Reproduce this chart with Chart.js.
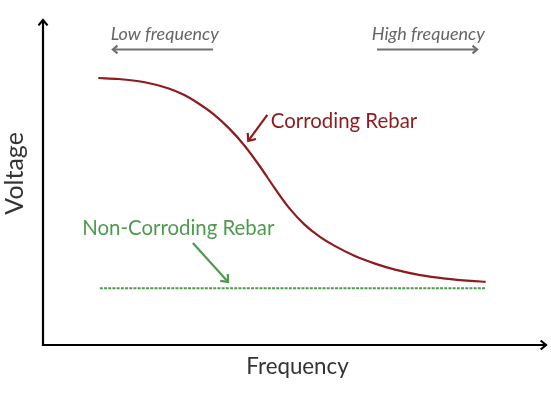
<!DOCTYPE html>
<html><head><meta charset="utf-8">
<script src="https://cdn.jsdelivr.net/npm/chart.js@4/dist/chart.umd.min.js"></script>
<style>html,body{margin:0;padding:0;background:#fff}#wrap{width:551px;height:393px}</style>
</head><body><div id="wrap"><canvas id="c" width="551" height="393"></canvas></div>
<script>
// Frequency positions (arbitrary units, 0 = origin, 100 = end of axis)
const frequency = [11, 15, 20, 25, 28, 31, 34, 37, 40, 43, 46, 49, 52, 55, 58, 62, 66, 70, 75, 80, 85, 88];
// Voltage (arbitrary units, 0 = origin, 100 = top of axis)
const corrodingVoltage = [82.15, 81.85, 80.92, 78.92, 76.98, 74.22, 70.89, 66.65, 61.48, 55.23, 48.40, 42.03, 37.05, 33.35, 30.49, 27.38, 25.05, 23.20, 21.51, 20.43, 19.72, 19.45];
const nonCorrodingFreq = [11.3, 88];
const nonCorrodingVoltage = [17.5, 17.5];
const axisTitles = {x: 'Frequency', y: 'Voltage'};
const seriesNames = ['Corroding Rebar', 'Non-Corroding Rebar'];
const bandLabels = ['Low frequency', 'High frequency'];

const RED = '#8e1b1f', GREEN = '#4f9a4f', GRAY = '#666666', FONT = 'Lato, "DejaVu Sans", sans-serif';

function arrow(ctx, x1, y1, x2, y2, color, w, head) {
  ctx.save();
  ctx.strokeStyle = color; ctx.lineWidth = w; ctx.lineCap = 'butt';
  ctx.beginPath(); ctx.moveTo(x1, y1); ctx.lineTo(x2, y2); ctx.stroke();
  const a = Math.atan2(y2 - y1, x2 - x1);
  ctx.lineJoin = 'miter';
  ctx.beginPath();
  ctx.moveTo(x2 - head * Math.cos(a - 0.7), y2 - head * Math.sin(a - 0.7));
  ctx.lineTo(x2, y2);
  ctx.lineTo(x2 - head * Math.cos(a + 0.7), y2 - head * Math.sin(a + 0.7));
  ctx.stroke();
  ctx.restore();
}

const decor = {
  id: 'decor',
  afterDraw(chart) {
    const {ctx, chartArea: ca, scales: {x, y}} = chart;
    const px = v => x.getPixelForValue(v), py = v => y.getPixelForValue(v);
    // axes
    arrow(ctx, ca.left, ca.bottom + 1, ca.left, ca.top, '#000', 2.2, 7);
    arrow(ctx, ca.left - 1, ca.bottom, ca.right, ca.bottom, '#000', 2.2, 7);
    ctx.save();
    ctx.textAlign = 'center'; ctx.textBaseline = 'middle';
    ctx.fillStyle = '#333';
    ctx.font = '22.3px ' + FONT;
    ctx.fillText(axisTitles.x, px(50.6), 367);
    ctx.font = '25px ' + FONT;
    ctx.save(); ctx.translate(15, py(52.8)); ctx.rotate(-Math.PI / 2);
    ctx.fillText(axisTitles.y, 0, 0); ctx.restore();
    // band labels
    ctx.fillStyle = GRAY; ctx.font = 'italic 18px ' + FONT;
    ctx.textBaseline = 'alphabetic';
    ctx.fillText(bandLabels[0], px(24.2), 40);
    ctx.fillText(bandLabels[1], px(76.6), 40);
    arrow(ctx, px(33.8), 49.5, px(13.9), 49.5, '#707070', 2.2, 6);
    arrow(ctx, px(66.4), 49.5, px(86.3), 49.5, '#707070', 2.2, 6);
    // series labels
    ctx.textAlign = 'left'; ctx.textBaseline = 'middle';
    ctx.fillStyle = RED; ctx.font = '20.4px ' + FONT;
    ctx.fillText(seriesNames[0], px(45.3), py(68.9));
    arrow(ctx, px(44.6), py(70.8), px(40.8), py(62.8), RED, 2.2, 8);
    ctx.fillStyle = GREEN;
    ctx.fillText(seriesNames[1], px(7.8), py(35.8));
    arrow(ctx, px(29.8), py(31.4), px(36.8), py(19.4), GREEN, 2.2, 8);
    ctx.restore();
  }
};

new Chart(document.getElementById('c'), {
  type: 'line',
  data: {
    datasets: [
      {label: seriesNames[0], data: frequency.map((f, i) => ({x: f, y: corrodingVoltage[i]})),
       borderColor: RED, borderWidth: 2.2, pointRadius: 0, cubicInterpolationMode: 'monotone', fill: false},
      {label: seriesNames[1], data: nonCorrodingFreq.map((f, i) => ({x: f, y: nonCorrodingVoltage[i]})),
       borderColor: GREEN, borderWidth: 2, borderDash: [3, 1.2], pointRadius: 0, fill: false}
    ]
  },
  options: {
    responsive: false, animation: false, devicePixelRatio: 1,
    layout: {padding: {left: 43, right: 5, top: 20, bottom: 48}},
    plugins: {legend: {display: false}, tooltip: {enabled: false}},
    scales: {
      x: {type: 'linear', min: 0, max: 100, display: false},
      y: {type: 'linear', min: 0, max: 100, display: false}
    }
  },
  plugins: [decor]
});
</script></body></html>
